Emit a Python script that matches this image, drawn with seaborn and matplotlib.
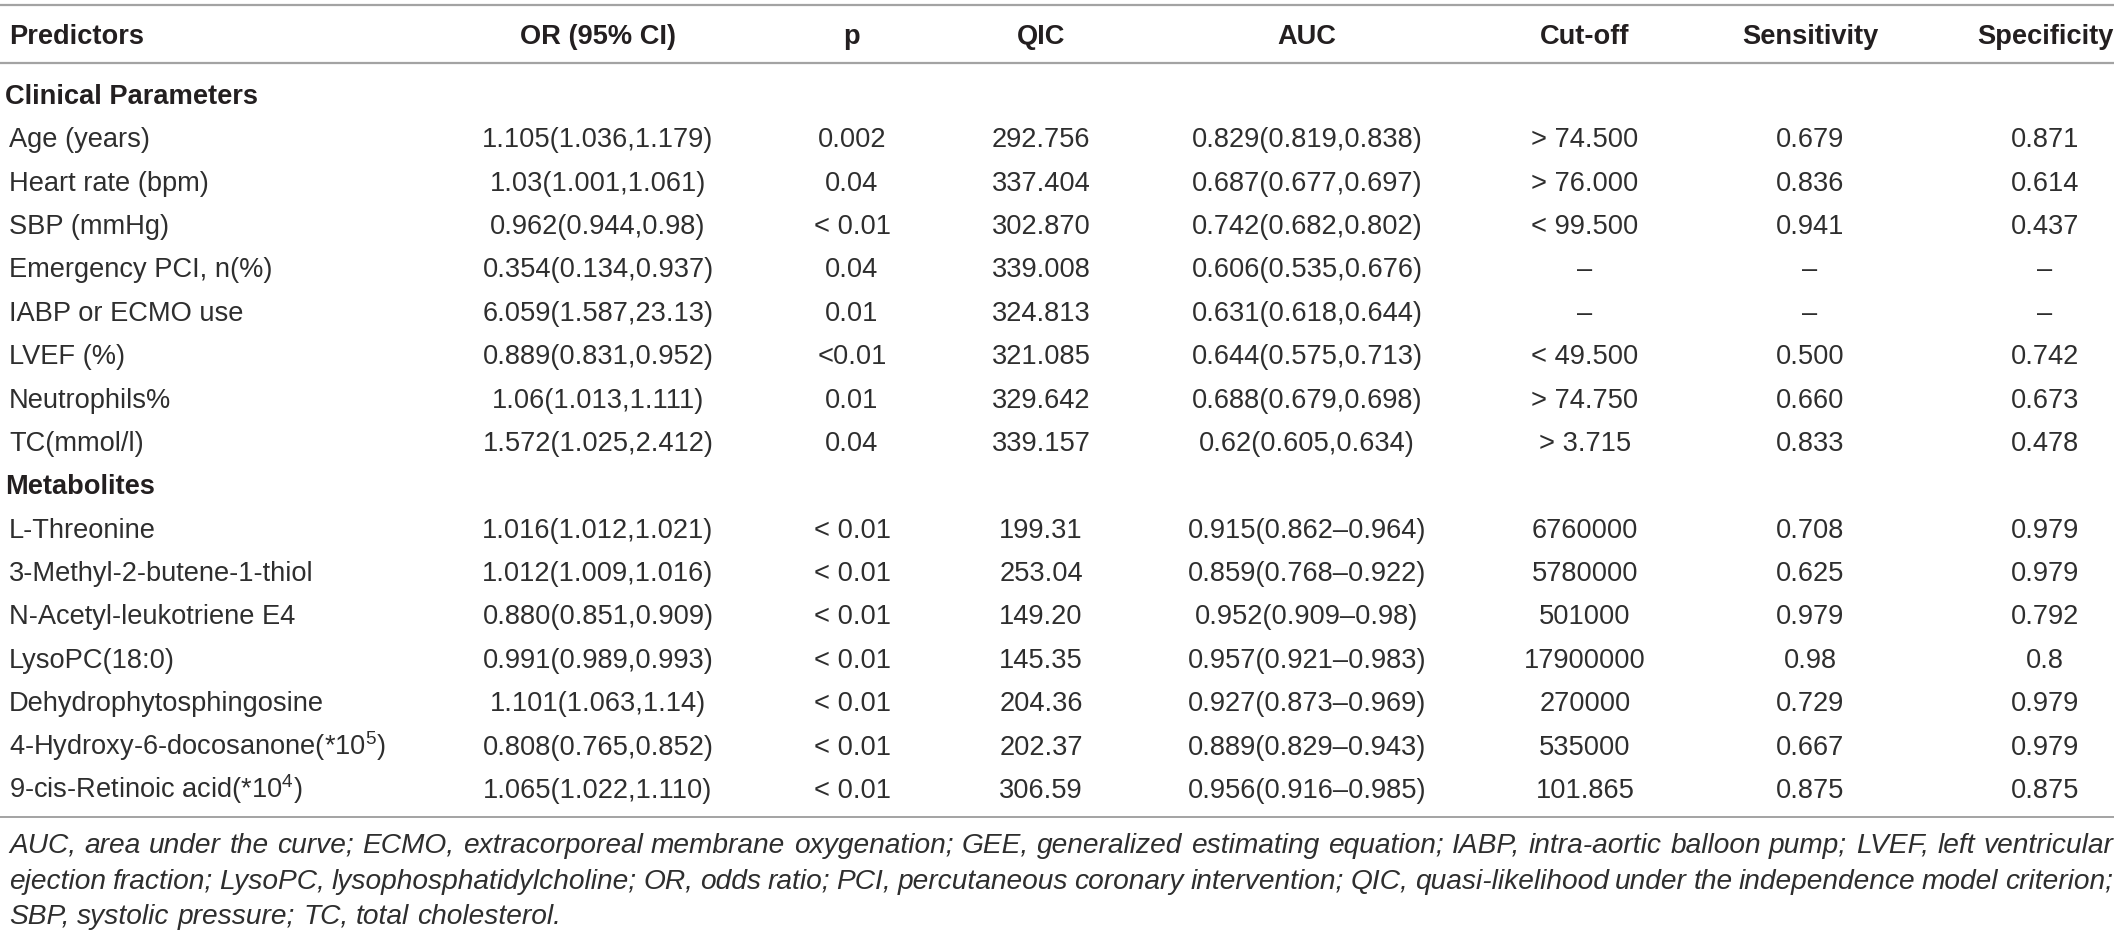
import matplotlib
matplotlib.use("Agg")
import matplotlib.pyplot as plt
import pandas as pd
import seaborn as sns

# ---------------- data ----------------
columns = ["Predictors", "OR (95% CI)", "p", "QIC", "AUC", "Cut-off",
           "Sensitivity", "Specificity"]

section_titles = ["Clinical Parameters", "Metabolites"]

clinical_predictors = ["Age (years)", "Heart rate (bpm)", "SBP (mmHg)",
                       "Emergency PCI, n(%)", "IABP or ECMO use", "LVEF (%)",
                       "Neutrophils%", "TC(mmol/l)"]
clinical_or = ["1.105(1.036,1.179)", "1.03(1.001,1.061)", "0.962(0.944,0.98)",
               "0.354(0.134,0.937)", "6.059(1.587,23.13)", "0.889(0.831,0.952)",
               "1.06(1.013,1.111)", "1.572(1.025,2.412)"]
clinical_p = ["0.002", "0.04", "< 0.01", "0.04", "0.01", "<0.01", "0.01", "0.04"]
clinical_qic = ["292.756", "337.404", "302.870", "339.008", "324.813",
                "321.085", "329.642", "339.157"]
clinical_auc = ["0.829(0.819,0.838)", "0.687(0.677,0.697)", "0.742(0.682,0.802)",
                "0.606(0.535,0.676)", "0.631(0.618,0.644)", "0.644(0.575,0.713)",
                "0.688(0.679,0.698)", "0.62(0.605,0.634)"]
clinical_cutoff = ["> 74.500", "> 76.000", "< 99.500", "–", "–", "< 49.500",
                   "> 74.750", "> 3.715"]
clinical_sens = ["0.679", "0.836", "0.941", "–", "–", "0.500", "0.660", "0.833"]
clinical_spec = ["0.871", "0.614", "0.437", "–", "–", "0.742", "0.673", "0.478"]

metab_predictors = ["L-Threonine", "3-Methyl-2-butene-1-thiol",
                    "N-Acetyl-leukotriene E4", "LysoPC(18:0)",
                    "Dehydrophytosphingosine",
                    r"4-Hydroxy-6-docosanone(*10$^{5}$)",
                    r"9-cis-Retinoic acid(*10$^{4}$)"]
metab_or = ["1.016(1.012,1.021)", "1.012(1.009,1.016)", "0.880(0.851,0.909)",
            "0.991(0.989,0.993)", "1.101(1.063,1.14)", "0.808(0.765,0.852)",
            "1.065(1.022,1.110)"]
metab_p = ["< 0.01"] * 7
metab_qic = ["199.31", "253.04", "149.20", "145.35", "204.36", "202.37", "306.59"]
metab_auc = ["0.915(0.862–0.964)", "0.859(0.768–0.922)", "0.952(0.909–0.98)",
             "0.957(0.921–0.983)", "0.927(0.873–0.969)", "0.889(0.829–0.943)",
             "0.956(0.916–0.985)"]
metab_cutoff = ["6760000", "5780000", "501000", "17900000", "270000",
                "535000", "101.865"]
metab_sens = ["0.708", "0.625", "0.979", "0.98", "0.729", "0.667", "0.875"]
metab_spec = ["0.979", "0.979", "0.792", "0.8", "0.979", "0.979", "0.875"]

footnote = ("AUC, area under the curve; ECMO, extracorporeal membrane oxygenation; "
            "GEE, generalized estimating equation; IABP, intra-aortic balloon pump; "
            "LVEF, left ventricular ejection fraction; LysoPC, lysophosphatidylcholine; "
            "OR, odds ratio; PCI, percutaneous coronary intervention; QIC, "
            "quasi-likelihood under the independence model criterion; SBP, systolic "
            "pressure; TC, total cholesterol.")
footnote_breaks = ["LVEF, left ventricular", "criterion;"]

# ---------------- table frame ----------------
def block(title, preds, orr, p, qic, auc, cut, sens, spec):
    rows = [dict(kind="section", cells=[title] + [""] * 7)]
    for vals in zip(preds, orr, p, qic, auc, cut, sens, spec):
        rows.append(dict(kind="row", cells=list(vals)))
    return rows

rows = (block(section_titles[0], clinical_predictors, clinical_or, clinical_p,
              clinical_qic, clinical_auc, clinical_cutoff, clinical_sens,
              clinical_spec)
        + block(section_titles[1], metab_predictors, metab_or, metab_p,
                metab_qic, metab_auc, metab_cutoff, metab_sens, metab_spec))
table = pd.DataFrame([r["cells"] for r in rows], columns=columns)
table["kind"] = [r["kind"] for r in rows]

# ---------------- style / layout ----------------
sns.set_theme(style="white")
plt.rcParams["font.family"] = ["Liberation Sans", "DejaVu Sans"]
plt.rcParams["mathtext.fontset"] = "custom"
plt.rcParams["mathtext.rm"] = "Liberation Sans"
plt.rcParams["mathtext.it"] = "Liberation Sans:italic"
plt.rcParams["mathtext.bf"] = "Liberation Sans:bold"

W, H, DPI = 2121, 937, 100
fig = plt.figure(figsize=(W / DPI, H / DPI), dpi=DPI)
ax = fig.add_axes([0, 0, 1, 1])
ax.set_xlim(0, W)
ax.set_ylim(H, 0)
ax.axis("off")

FS = 19.6
TXT = "#231f20"
BODY = "#2e2e2e"
LINE = "#a3a3a3"
col_x = [9, 598, 852, 1041, 1307, 1585, 1810, 2045]
left_x, right_x = 0, 2114
header_y = 34
row0_y = 94
row_step = 43.375
base_off = 10  # baseline offset from visual centre

# rules
for yy in (6, 64):
    ax.plot([left_x, right_x], [yy, yy], color=LINE, lw=1.6, solid_capstyle="butt")
last_y = row0_y + (len(table) - 1) * row_step
ax.plot([left_x, right_x], [last_y + 30, last_y + 30], color=LINE, lw=1.4,
        solid_capstyle="butt")

# header
for j, name in enumerate(columns):
    ax.text(col_x[j], header_y + base_off, name, ha="left" if j == 0 else "center",
            va="baseline", fontsize=FS, fontweight="bold", color=TXT)

# body
for i, r in table.iterrows():
    y = row0_y + i * row_step + base_off
    if r["kind"] == "section":
        ax.text(5, y, r["Predictors"], ha="left", va="baseline", fontsize=FS,
                fontweight="bold", color=TXT)
        continue
    for j, name in enumerate(columns):
        ax.text(col_x[j], y, r[name], ha="left" if j == 0 else "center",
                va="baseline", fontsize=FS, color=BODY)

# footnote (justified lines)
renderer = fig.canvas.get_renderer()
lines, rest = [], footnote
for br in footnote_breaks:
    k = rest.index(br) + len(br)
    lines.append(rest[:k].strip())
    rest = rest[k:]
lines.append(rest.strip())

fx0, fx1 = 9, 2113
# choose a footnote size so that the first line fits naturally
probe = ax.text(0, 0, lines[0], fontsize=FS, style="italic")
nat = probe.get_window_extent(renderer).width
probe.remove()
FFS = FS * (fx1 - fx0) / nat * 0.995

foot_y = [843, 879, 914]
for li, (line, fy) in enumerate(zip(lines, foot_y)):
    words = line.split(" ")
    arts = [ax.text(0, fy + base_off, w, ha="left", va="baseline", fontsize=FFS,
                    style="italic", color=BODY) for w in words]
    widths = [a.get_window_extent(renderer).width for a in arts]
    sp = ax.text(0, 0, "a a", fontsize=FFS, style="italic")
    sp2 = ax.text(0, 0, "aa", fontsize=FFS, style="italic")
    natgap = (sp.get_window_extent(renderer).width
              - sp2.get_window_extent(renderer).width)
    sp.remove(); sp2.remove()
    if li < len(lines) - 1 and len(words) > 1:
        gap = (fx1 - fx0 - sum(widths)) / (len(words) - 1)
    else:
        gap = natgap
    x = fx0
    for a, w in zip(arts, widths):
        a.set_x(x)
        x += w + gap

fig.savefig("out.png", dpi=DPI, facecolor="white")
